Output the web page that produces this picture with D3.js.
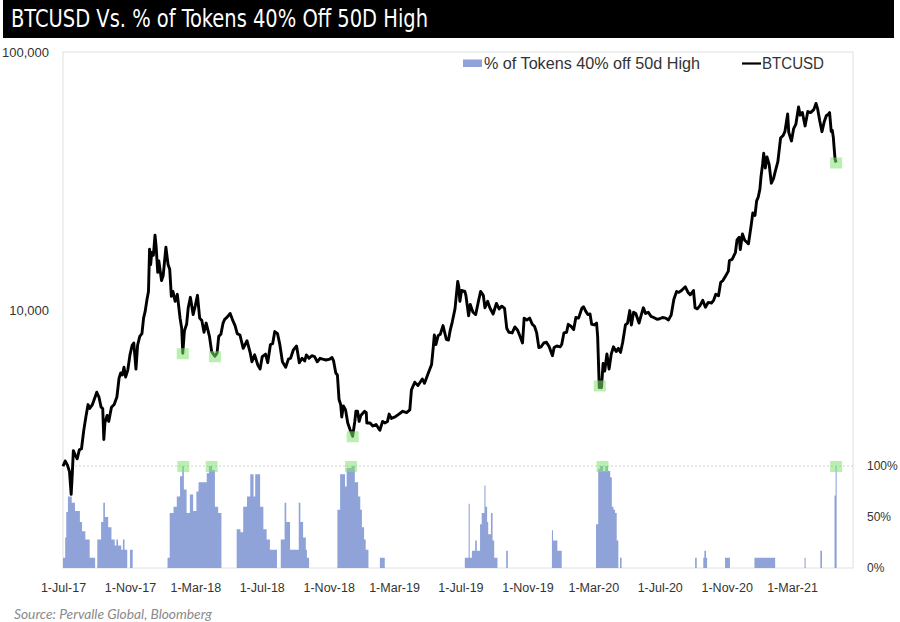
<!DOCTYPE html>
<html>
<head>
<meta charset="utf-8">
<script src="https://cdn.jsdelivr.net/npm/d3@7"></script>
<style>
  html, body { margin: 0; padding: 0; background: #fff; }
  svg { display: block; }
</style>
</head>
<body>
<svg id="chart" width="900" height="622"></svg>
<script>
// ---------- DATA ----------
const chartTitle = "BTCUSD Vs. % of Tokens 40% Off 50D High";
const sourceText = "Source: Pervalle Global, Bloomberg";
const seriesNames = ["% of Tokens 40% off 50d High", "BTCUSD"];

const xTickLabels = ["2017-07-01","2017-11-01","2018-03-01","2018-07-01","2018-11-01","2019-03-01",
                     "2019-07-01","2019-11-01","2020-03-01","2020-07-01","2020-11-01","2021-03-01"];
const btcTicks = [10000, 100000];
const pctTicks = [0, 50, 100];

// BTCUSD
const btcDates = [
"2017-07-01","2017-07-05","2017-07-09","2017-07-13","2017-07-16","2017-07-18","2017-07-20","2017-07-23","2017-07-27","2017-07-31",
"2017-08-04","2017-08-08","2017-08-12","2017-08-16","2017-08-19","2017-08-24","2017-08-29","2017-09-01","2017-09-05","2017-09-09",
"2017-09-12","2017-09-14","2017-09-16","2017-09-20","2017-09-23","2017-09-28","2017-10-03","2017-10-08","2017-10-12","2017-10-15",
"2017-10-18","2017-10-21","2017-10-24","2017-10-28","2017-11-01","2017-11-05","2017-11-08","2017-11-12","2017-11-15","2017-11-19",
"2017-11-23","2017-11-26","2017-11-29","2017-12-02","2017-12-05","2017-12-07","2017-12-09","2017-12-11","2017-12-14","2017-12-17",
"2017-12-19","2017-12-22","2017-12-24","2017-12-29","2018-01-01","2018-01-06","2018-01-10","2018-01-13","2018-01-16","2018-01-19",
"2018-01-23","2018-01-27","2018-02-01","2018-02-04","2018-02-06","2018-02-09","2018-02-13","2018-02-16","2018-02-20","2018-02-25",
"2018-03-01","2018-03-05","2018-03-09","2018-03-13","2018-03-17","2018-03-21","2018-03-27","2018-03-31","2018-04-06","2018-04-10",
"2018-04-13","2018-04-17","2018-04-21","2018-04-24","2018-04-29","2018-05-04","2018-05-08","2018-05-13","2018-05-17","2018-05-22",
"2018-05-28","2018-06-04","2018-06-10","2018-06-13","2018-06-18","2018-06-24","2018-06-28","2018-07-02","2018-07-08","2018-07-12",
"2018-07-17","2018-07-21","2018-07-25","2018-07-30","2018-08-03","2018-08-08","2018-08-11","2018-08-14","2018-08-19","2018-08-23",
"2018-08-28","2018-09-03","2018-09-08","2018-09-13","2018-09-18","2018-09-21","2018-09-26","2018-10-01","2018-10-06","2018-10-11",
"2018-10-16","2018-10-21","2018-10-27","2018-11-03","2018-11-07","2018-11-10","2018-11-14","2018-11-17","2018-11-20","2018-11-23",
"2018-11-25","2018-11-28","2018-12-02","2018-12-06","2018-12-10","2018-12-15","2018-12-19","2018-12-21","2018-12-24","2018-12-27",
"2018-12-30","2019-01-06","2019-01-09","2019-01-10","2019-01-16","2019-01-21","2019-01-27","2019-02-03","2019-02-08","2019-02-12",
"2019-02-17","2019-02-20","2019-02-24","2019-03-03","2019-03-10","2019-03-17","2019-03-24","2019-03-30","2019-04-02","2019-04-08",
"2019-04-14","2019-04-22","2019-04-26","2019-05-03","2019-05-09","2019-05-12","2019-05-14","2019-05-17","2019-05-21","2019-05-25",
"2019-05-30","2019-06-05","2019-06-09","2019-06-12","2019-06-16","2019-06-21","2019-06-26","2019-06-28","2019-06-30","2019-07-03",
"2019-07-09","2019-07-11","2019-07-16","2019-07-19","2019-07-24","2019-07-29","2019-08-03","2019-08-07","2019-08-12","2019-08-15",
"2019-08-20","2019-08-24","2019-08-30","2019-09-05","2019-09-10","2019-09-15","2019-09-20","2019-09-24","2019-09-28","2019-10-04",
"2019-10-09","2019-10-14","2019-10-18","2019-10-23","2019-10-26","2019-10-31","2019-11-05","2019-11-10","2019-11-14","2019-11-18",
"2019-11-22","2019-11-26","2019-12-01","2019-12-06","2019-12-11","2019-12-17","2019-12-20","2019-12-25","2019-12-31","2020-01-03",
"2020-01-07","2020-01-12","2020-01-15","2020-01-20","2020-01-25","2020-01-29","2020-02-03","2020-02-09","2020-02-12","2020-02-16",
"2020-02-20","2020-02-24","2020-02-27","2020-03-03","2020-03-07","2020-03-09","2020-03-12","2020-03-13","2020-03-16","2020-03-19",
"2020-03-22","2020-03-26","2020-03-30","2020-04-03","2020-04-07","2020-04-12","2020-04-16","2020-04-20","2020-04-24","2020-04-29",
"2020-05-03","2020-05-07","2020-05-10","2020-05-14","2020-05-18","2020-05-24","2020-05-28","2020-06-01","2020-06-05","2020-06-10",
"2020-06-15","2020-06-20","2020-06-26","2020-07-01","2020-07-06","2020-07-12","2020-07-17","2020-07-22","2020-07-27","2020-08-01",
"2020-08-05","2020-08-10","2020-08-17","2020-08-22","2020-08-26","2020-09-01","2020-09-04","2020-09-08","2020-09-13","2020-09-18",
"2020-09-23","2020-09-28","2020-10-04","2020-10-08","2020-10-12","2020-10-17","2020-10-21","2020-10-25","2020-10-30","2020-11-04",
"2020-11-06","2020-11-11","2020-11-17","2020-11-20","2020-11-24","2020-11-26","2020-11-30","2020-12-04","2020-12-08","2020-12-11",
"2020-12-16","2020-12-19","2020-12-23","2020-12-26","2020-12-29","2021-01-01","2021-01-03","2021-01-06","2021-01-08","2021-01-11",
"2021-01-14","2021-01-18","2021-01-22","2021-01-26","2021-01-29","2021-02-03","2021-02-08","2021-02-13","2021-02-16","2021-02-21",
"2021-02-23","2021-02-28","2021-03-04","2021-03-08","2021-03-13","2021-03-16","2021-03-20","2021-03-25","2021-03-30","2021-04-04",
"2021-04-10","2021-04-14","2021-04-17","2021-04-21","2021-04-25","2021-04-29","2021-05-03","2021-05-07","2021-05-09","2021-05-12",
"2021-05-14","2021-05-16","2021-05-17","2021-05-19","2021-05-21"];
const btcValues = [
2480,2600,2510,2360,1930,2300,2850,2750,2650,2870,
2900,3400,3850,4300,4150,4300,4600,4800,4600,4200,
4150,3150,3650,3900,3700,4200,4300,4600,5450,5700,
5600,6000,5500,5850,6700,7300,7450,5900,7300,7900,
8100,9300,9900,10900,11800,17200,15000,16700,16300,19500,
17700,14000,15500,13000,13600,17500,15000,14400,11300,11800,
10800,11500,9300,8500,6800,8300,8800,10200,11200,9600,
10400,11400,9300,9100,8200,8900,7900,6900,6620,6800,
7900,8050,8900,9200,9400,9700,9200,8700,8100,8000,
7100,7600,6800,6300,6700,6100,5900,6600,6750,6250,
7350,7400,8250,8100,7400,6300,6150,6000,6450,6500,
7000,7250,6250,6500,6350,6700,6500,6650,6600,6300,
6500,6450,6400,6450,6550,6350,5700,5600,4500,4300,
3850,4250,4100,3650,3450,3240,3700,4050,4050,3700,
3900,4050,4000,3650,3650,3550,3600,3420,3700,3650,
3700,3950,3800,3850,3950,4050,4000,4100,4900,5250,
5100,5400,5200,5700,6150,7150,8000,7350,7950,8050,
8700,7700,7650,8300,9000,10100,12900,12300,10800,11900,
11800,11400,9500,10500,9800,9600,10800,11800,11400,10200,
10800,10200,9650,10600,10100,10350,10150,8500,8200,8150,
8600,8350,7950,7450,9300,9150,9300,8800,8650,8150,
7150,7200,7450,7500,7200,6650,7150,7250,7200,7350,
8150,8200,8800,8650,8400,9350,9300,10150,10300,9900,
9600,9650,8800,8750,8900,7900,5000,5200,5000,6200,
5800,6750,5900,6750,7200,6900,7100,6850,7500,8750,
8900,9950,8750,9800,9700,8900,9550,10200,9700,9800,
9450,9350,9200,9250,9350,9300,9150,9550,11000,11800,
11700,11900,12300,11700,11450,11900,10200,10100,10400,10900,
10250,10700,10650,10900,11500,11350,12800,13000,13550,14150,
15550,15700,16700,18700,19150,17150,19700,18650,18300,18050,
21300,23800,23250,26500,27400,29400,32800,36800,40500,35500,
39200,36700,31000,32300,34300,37600,46400,47600,49200,57500,
48800,45200,50500,52400,61200,56900,58300,51700,58800,58200,
59800,63200,60300,54000,49100,53500,56600,57400,58200,49200,
49700,46400,43500,38500,37300];

// % of tokens 40% off 50d high (step values from each date until the next)
const pctDates = [
"2017-07-01","2017-07-05","2017-07-07","2017-07-10","2017-07-17","2017-07-23","2017-08-01","2017-08-05","2017-08-11","2017-08-19","2017-08-29",
"2017-09-02","2017-09-09","2017-09-13","2017-09-16","2017-09-22","2017-09-28","2017-10-04","2017-10-07","2017-10-10","2017-10-16","2017-10-19","2017-10-22","2017-10-27","2017-11-01","2017-11-06",
"2018-01-09","2018-01-13","2018-01-20","2018-01-26","2018-02-01","2018-02-05","2018-02-08","2018-02-13","2018-02-19","2018-02-25","2018-03-03","2018-03-07","2018-03-22","2018-03-26","2018-04-01","2018-04-06","2018-04-12","2018-04-18",
"2018-05-16","2018-05-23","2018-05-28","2018-06-04","2018-06-10","2018-06-16","2018-06-19","2018-06-28","2018-07-04","2018-07-10","2018-07-16","2018-07-29",
"2018-08-05","2018-08-12","2018-08-15","2018-08-22","2018-09-07","2018-09-10","2018-09-15","2018-09-20","2018-09-22","2018-09-26",
"2018-11-17","2018-11-22","2018-12-01","2018-12-04","2018-12-13","2018-12-19","2018-12-25","2018-12-29","2019-01-01","2019-01-05","2019-01-08","2019-01-13",
"2019-02-03","2019-02-12",
"2019-07-09","2019-07-16","2019-07-18","2019-07-22","2019-07-28","2019-07-31","2019-08-06","2019-08-09","2019-08-14","2019-08-16","2019-08-19","2019-08-21","2019-08-26","2019-08-29","2019-09-01","2019-09-07",
"2019-09-23","2019-09-26",
"2019-12-16","2019-12-18","2019-12-26","2020-01-03",
"2020-03-06","2020-03-10","2020-03-13","2020-03-19","2020-03-23","2020-03-28","2020-04-01","2020-04-04","2020-04-07","2020-04-10","2020-04-13","2020-04-16","2020-04-19","2020-04-22",
"2020-09-04","2020-09-07","2020-09-19","2020-09-21","2020-09-24","2020-09-26","2020-10-29","2020-11-07","2020-12-22","2021-01-29",
"2021-03-24","2021-03-26","2021-04-22","2021-04-25","2021-05-18","2021-05-20","2021-05-22"];
const pctValues = [
10,30,55,70,64,56,45,36,28,10,0,
28,45,64,50,40,28,22,28,22,18,28,18,0,18,0,
10,54,60,70,90,100,77,54,72,56,75,84,93,100,96,60,54,0,
38,35,60,70,92,70,92,60,38,28,18,0,
28,64,45,18,64,45,30,18,10,0,
57,92,80,98,100,84,70,57,40,28,18,0,
10,0,
10,63,10,17,27,17,43,54,81,60,45,33,54,27,10,0,
17,0,
37,27,17,0,
43,97,100,95,100,95,89,60,57,54,27,0,10,0,
10,0,10,17,10,0,10,0,10,0,
10,0,17,0,71,100,100];

// highlighted points
const lineMarkDates = ["2018-02-06","2018-04-06","2018-12-15","2020-03-13","2021-05-21"];
const lineMarkValues = [6800, 6620, 3240, 5100, 37300];
const barMarkDates = ["2018-02-07","2018-03-31","2018-12-12","2020-03-18","2021-05-21"];
const barMarkValues = [100, 100, 100, 100, 100];

// ---------- CHART ----------
const parse = d3.timeParse("%Y-%m-%d");
const svg = d3.select("#chart");
const W = 900, H = 622;
const plot = {left: 63, right: 853, top: 52, bottom: 568};
const AXIS_FONT = "'Liberation Sans', Arial, sans-serif";

const btc = btcDates.map((d, i) => ({date: parse(d), value: btcValues[i]}));
const pct = pctDates.map((d, i) => ({date: parse(d), value: pctValues[i]}));

const x = d3.scaleTime().domain([parse("2017-07-01"), parse("2021-06-21")]).range([plot.left, plot.right]);
const yB = d3.scaleLog().domain([1000, 100000]).range([plot.bottom, plot.top]);
const yP = d3.scaleLinear().domain([0, 100]).range([plot.bottom, 466]);

svg.append("rect").attr("width", W).attr("height", H).attr("fill", "#fff");

// title bar
svg.append("rect").attr("x", 3).attr("y", 0).attr("width", 891).attr("height", 38).attr("fill", "#000");
svg.append("text").attr("x", 11).attr("y", 27)
  .attr("fill", "#fff")
  .style("font-family", "'Liberation Sans Narrow', 'DejaVu Sans Condensed', Arial, sans-serif")
  .style("font-size", "24px")
  .attr("textLength", 417).attr("lengthAdjust", "spacingAndGlyphs")
  .text(chartTitle);

// plot frame
svg.append("rect").attr("x", plot.left).attr("y", plot.top)
  .attr("width", plot.right - plot.left).attr("height", plot.bottom - plot.top)
  .attr("fill", "none").attr("stroke", "#e0e0e0").attr("stroke-width", 1);

// 100% dotted gridline
svg.append("line").attr("x1", plot.left).attr("x2", plot.right)
  .attr("y1", yP(100)).attr("y2", yP(100))
  .attr("stroke", "#cfcfcf").attr("stroke-dasharray", "2,2").attr("stroke-width", 1);

// bars (step area)
const area = d3.area().curve(d3.curveStepAfter)
  .x(d => x(d.date)).y0(yP(0)).y1(d => yP(d.value));
svg.append("path").datum(pct).attr("d", area).attr("fill", "#8FA3D9");

// BTC line
const line = d3.line().x(d => x(d.date)).y(d => yB(d.value));
svg.append("path").datum(btc).attr("d", line)
  .attr("fill", "none").attr("stroke", "#000").attr("stroke-width", 2.9)
  .attr("stroke-linejoin", "round");

// highlight squares
const mk = 12;
svg.append("g").selectAll("rect").data(lineMarkDates.map((d, i) => ({date: parse(d), value: lineMarkValues[i]})))
  .join("rect")
  .attr("x", d => x(d.date) - mk / 2).attr("y", d => yB(d.value) - 5)
  .attr("width", mk).attr("height", 11)
  .attr("fill", "#7fe36f").attr("opacity", 0.55);
svg.append("g").selectAll("rect").data(barMarkDates.map((d, i) => ({date: parse(d), value: barMarkValues[i]})))
  .join("rect")
  .attr("x", d => x(d.date) - mk / 2).attr("y", d => yP(d.value) - 5)
  .attr("width", mk).attr("height", 11)
  .attr("fill", "#7fe36f").attr("opacity", 0.55);

// axes
const xAxis = d3.axisBottom(x).tickValues(xTickLabels.map(parse))
  .tickFormat(d3.timeFormat("%-d-%b-%y")).tickSize(0).tickPadding(15);
const gx = svg.append("g").attr("transform", `translate(0,${plot.bottom})`).call(xAxis);
gx.select(".domain").remove();
gx.selectAll("text").style("font-family", AXIS_FONT).style("font-size", "12.5px").attr("fill", "#333");

const yAxisL = d3.axisLeft(yB).tickValues(btcTicks).tickFormat(d3.format(",")).tickSize(0).tickPadding(14);
const gl = svg.append("g").attr("transform", `translate(${plot.left},0)`).call(yAxisL);
gl.select(".domain").remove();
gl.selectAll("text").style("font-family", AXIS_FONT).style("font-size", "13px").attr("fill", "#333");

const yAxisR = d3.axisRight(yP).tickValues(pctTicks).tickFormat(d => d + "%").tickSize(0).tickPadding(14);
const gr = svg.append("g").attr("transform", `translate(${plot.right},0)`).call(yAxisR);
gr.select(".domain").remove();
gr.selectAll("text").style("font-family", AXIS_FONT).style("font-size", "12px").attr("fill", "#333");

// legend
const lg = svg.append("g");
lg.append("rect").attr("x", 463).attr("y", 59.5).attr("width", 19).attr("height", 7.5).attr("fill", "#8FA3D9");
lg.append("text").attr("x", 484).attr("y", 69)
  .style("font-family", AXIS_FONT).style("font-size", "16px").attr("fill", "#333")
  .attr("textLength", 216).attr("lengthAdjust", "spacingAndGlyphs")
  .text(seriesNames[0]);
lg.append("line").attr("x1", 742).attr("x2", 761).attr("y1", 63.5).attr("y2", 63.5)
  .attr("stroke", "#000").attr("stroke-width", 2.2);
lg.append("text").attr("x", 762).attr("y", 69)
  .style("font-family", AXIS_FONT).style("font-size", "16px").attr("fill", "#333")
  .attr("textLength", 62).attr("lengthAdjust", "spacingAndGlyphs")
  .text(seriesNames[1]);

// source
svg.append("text").attr("x", 14).attr("y", 619)
  .style("font-family", "Lato, 'Open Sans', sans-serif").style("font-style", "italic")
  .style("font-size", "12.5px").attr("fill", "#8a8a8a")
  .attr("textLength", 198).attr("lengthAdjust", "spacingAndGlyphs")
  .text(sourceText);
</script>
</body>
</html>
